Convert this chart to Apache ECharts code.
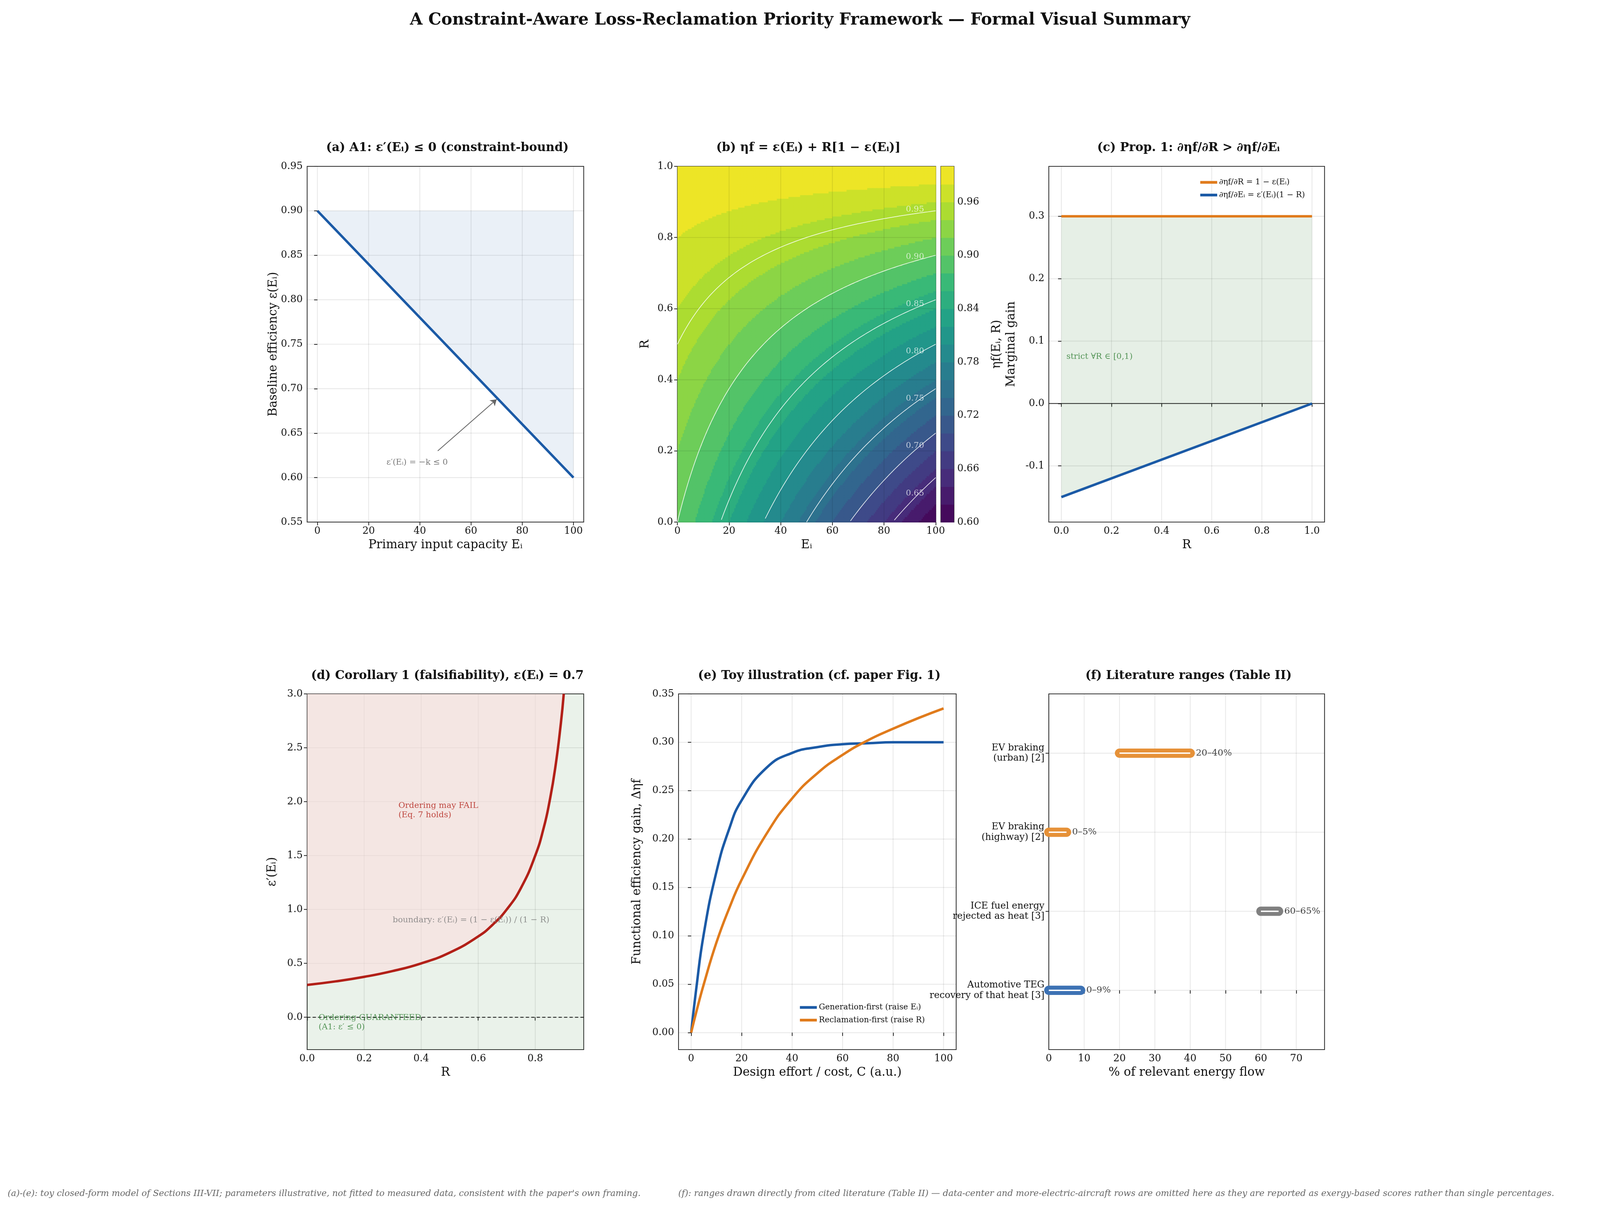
<!DOCTYPE html>
<html><head><meta charset="utf-8">
<script src="https://cdn.jsdelivr.net/npm/echarts@6/dist/echarts.min.js"></script>
<style>html,body{margin:0;background:#fff;overflow:hidden}#main{width:100vw;height:100vh}</style>
</head><body><div id="main"></div>
<script>
// (a) baseline efficiency, linear model
var aE = [0, 100];
var aEps = [0.9, 0.6];
var eps0 = 0.9, kSlope = 0.003;
// (b) contour levels
var bLevels = [0.65, 0.70, 0.75, 0.80, 0.85, 0.90, 0.95];
var bBandStep = 0.02;
// (c) marginal gains
var cR = [0, 1];
var cDR = [0.3, 0.3];
var cDE = [-0.15, 0];
// (d) boundary eps' = (1-eps)/(1-R), eps = 0.7
var dR = [0, 0.1, 0.2, 0.3, 0.4, 0.5, 0.6, 0.65, 0.7, 0.75, 0.8, 0.83, 0.85, 0.87, 0.89, 0.9];
var dB = [0.3, 0.333, 0.375, 0.429, 0.5, 0.6, 0.75, 0.857, 1.0, 1.2, 1.5, 1.76, 2.0, 2.31, 2.73, 3.0];
// (e) toy illustration
var eC = [0, 2, 5, 10, 15, 20, 30, 40, 50, 60, 70, 80, 90, 100];
var eGen = [0, 0.045, 0.102, 0.166, 0.21, 0.24, 0.274, 0.289, 0.295, 0.298, 0.299, 0.3, 0.3, 0.3];
var eRec = [0, 0.021, 0.05, 0.093, 0.128, 0.158, 0.206, 0.242, 0.268, 0.287, 0.302, 0.314, 0.325, 0.335];
// (f) literature ranges
var fRows = ['Automotive TEG\nrecovery of that heat [3]', 'ICE fuel energy\nrejected as heat [3]', 'EV braking\n(highway) [2]', 'EV braking\n(urban) [2]'];
var fLo = [0, 60, 0, 20];
var fHi = [9, 65, 5, 40];
var fLbl = ['0–9%', '60–65%', '0–5%', '20–40%'];
var fCol = ['#3d72b4', '#808080', '#e69138', '#e69138'];

var FONT = 'DejaVu Serif';
var BLUE = '#1b5aa6', ORANGE = '#e07b1c', RED = '#b22018', GREEN = '#2e7d32';
var viridis = ['#440154','#482878','#3e4989','#31688e','#26828e','#1f9e89','#35b779','#6ece58','#b5de2b','#fde725'];

// layout is written for 5855x3109 and scaled to whatever the window is
var el = document.getElementById('main');
var SX = el.clientWidth / 5855, SY = el.clientHeight / 3109, SF = Math.min(SX, SY);
function X(v){return v * SX;} function Y(v){return v * SY;} function F(v){return v * SF;}

function hex(c){return [parseInt(c.substr(1,2),16),parseInt(c.substr(3,2),16),parseInt(c.substr(5,2),16)];}
function vir(t){
  t = Math.max(0, Math.min(1, t)) * (viridis.length - 1);
  var i = Math.min(Math.floor(t), viridis.length - 2), f = t - i;
  var a = hex(viridis[i]), b = hex(viridis[i+1]);
  return 'rgb(' + a.map(function(v,j){return Math.round(v + (b[j]-v)*f);}).join(',') + ')';
}
function bandColor(v){
  var k = Math.floor((v - 0.6) / bBandStep + 1e-9);
  k = Math.max(0, Math.min(19, k));
  return vir((k + 0.5) / 20);
}

var chart = echarts.init(el);
var TOP1 = 426, TOP2 = 1777, H = 911;
var grids = [
  {left:1124, top:TOP1, width:1012, height:H},
  {left:2479, top:TOP1, width:945, height:H},
  {left:3443, top:TOP1, width:48, height:H},
  {left:3838, top:TOP1, width:1009, height:H},
  {left:1124, top:TOP2, width:1012, height:H},
  {left:2483, top:TOP2, width:1016, height:H},
  {left:3838, top:TOP2, width:1009, height:H}
].map(function(g){
  return {left:X(g.left), top:Y(g.top), width:X(g.width), height:Y(g.height),
    show:true, borderColor:'#333', borderWidth:F(3), backgroundColor:'transparent'};
});

function ax(gi, min, max, ticks, name, gap, fmt, extra){
  var o = {
    type:'value', gridIndex:gi, min:min, max:max,
    name:name, nameLocation:'middle', nameGap:F(gap),
    nameTextStyle:{fontFamily:FONT, fontSize:F(44), color:'#111'},
    axisLine:{show:false},
    axisTick:{show:true, length:F(12), lineStyle:{color:'#333', width:F(3)}, customValues:ticks},
    axisLabel:{fontFamily:FONT, fontSize:F(36), color:'#111', margin:F(16), customValues:ticks,
      formatter:fmt || function(v){return v;}},
    splitLine:{show:false}
  };
  if (extra) for (var k in extra) o[k] = extra[k];
  return o;
}
function f2(v){return (Math.round(v*100)/100).toFixed(2);}
function f1(v){return (Math.round(v*10)/10).toFixed(1);}
function range(a,b,s){var r=[];for(var v=a;v<=b+1e-9;v+=s)r.push(Math.round(v*1000)/1000);return r;}

var xAxes = [
  ax(0, -4, 104, range(0,100,20), 'Primary input capacity Eᵢ', 62),
  ax(1, 0, 100, range(0,100,20), 'Eᵢ', 62),
  {type:'value', gridIndex:2, min:0, max:1, show:false},
  ax(3, -0.05, 1.05, range(0,1,0.2), 'R', 62, f1),
  ax(4, 0, 0.97, range(0,0.8,0.2), 'R', 62, f1),
  ax(5, -5, 105, range(0,100,20), 'Design effort / cost, C (a.u.)', 62),
  ax(6, 0, 78, range(0,70,10), '% of relevant energy flow', 62)
];
var yAxes = [
  ax(0, 0.55, 0.95, range(0.55,0.95,0.05), 'Baseline efficiency ε(Eᵢ)', 100, f2),
  ax(1, 0, 1, range(0,1,0.2), 'R', 95, f1),
  ax(2, 0.6, 1.0, range(0.6,0.96,0.06), 'ηf(Eᵢ, R)', 135, f2, {position:'right', nameRotate:90}),
  ax(3, -0.19, 0.38, range(-0.1,0.3,0.1), 'Marginal gain', 115, f1),
  ax(4, -0.3, 3.0, range(0,3,0.5), 'ε′(Eᵢ)', 105, f1),
  ax(5, -0.0175, 0.35, range(0,0.35,0.05), 'Functional efficiency gain, Δηf', 130, f2),
  ax(6, -0.75, 3.75, [0,1,2,3], '', 0, function(v){return fRows[Math.round(v)] || '';})
];
yAxes[6].axisLabel.fontSize = F(34); yAxes[6].axisLabel.lineHeight = F(38);
yAxes[2].axisLabel.margin = F(12);

// grid lines drawn as faint custom lines at the tick positions
function gridLines(gi, xt, yt, xr, yr){
  var d = [];
  xt.forEach(function(v){ d.push([v, yr[0], v, yr[1]]); });
  yt.forEach(function(v){ d.push([xr[0], v, xr[1], v]); });
  return {type:'custom', xAxisIndex:gi, yAxisIndex:gi, data:d, silent:true, z:1, progressive:0,
    renderItem:function(p, api){
      var a = api.coord([api.value(0), api.value(1)]), b = api.coord([api.value(2), api.value(3)]);
      return {type:'line', shape:{x1:a[0], y1:a[1], x2:b[0], y2:b[1]}, style:{stroke:'rgba(0,0,0,0.09)', lineWidth:F(3)}};
    }};
}
function poly(gi, pts, fill, z){
  return {type:'custom', xAxisIndex:gi, yAxisIndex:gi, data:[0], silent:true, z:z||2,
    renderItem:function(p, api){
      return {type:'polygon', shape:{points:pts.map(function(q){return api.coord(q);})}, style:{fill:fill}};
    }};
}
function txt(gi, x, y, s, color, size, align){
  return {type:'scatter', xAxisIndex:gi, yAxisIndex:gi, symbolSize:0, silent:true, z:10,
    data:[[x,y]], label:{show:true, position:'inside', formatter:s, color:color, fontFamily:FONT,
      fontSize:F(size||32), align:align||'left', lineHeight:F((size||32)*1.15)}};
}

var series = [];
// ---- (a)
series.push(gridLines(0, range(0,100,20), range(0.55,0.95,0.05), [-4,104], [0.55,0.95]));
series.push(poly(0, [[aE[0],aEps[0]],[aE[1],aEps[0]],[aE[1],aEps[1]]], 'rgba(27,90,166,0.09)'));
series.push({type:'line', xAxisIndex:0, yAxisIndex:0, data:[[aE[0],aEps[0]],[aE[1],aEps[1]]], symbol:'none',
  lineStyle:{color:BLUE, width:F(9)}, z:5,
  markLine:{silent:true, symbol:['none','arrow'], symbolSize:F(22), label:{show:false},
    lineStyle:{color:'#666', width:F(3), type:'solid'}, data:[[{coord:[47,0.63]},{coord:[70,0.688]}]]}});
series.push(txt(0, 27, 0.617, 'ε′(Eᵢ) = −k ≤ 0', '#555', 30));

// ---- (b) contour fill
var cells = [];
for (var E = 0; E < 100; E += 0.5) for (var R = 0; R < 1; R += 0.005) {
  var em = E + 0.25, rm = R + 0.0025, ep = eps0 - kSlope * em;
  cells.push([E, R, ep + rm * (1 - ep)]);
}
series.push({type:'custom', xAxisIndex:1, yAxisIndex:1, data:cells, silent:true, z:1,
  progressive:0, large:false,
  renderItem:function(p, api){
    var a = api.coord([api.value(0), api.value(1) + 0.005]), b = api.coord([api.value(0) + 0.5, api.value(1)]);
    return {type:'rect', shape:{x:a[0], y:a[1], width:b[0]-a[0]+1, height:b[1]-a[1]+1}, style:{fill:bandColor(api.value(2))}};
  }});
series.push(gridLines(1, range(0,100,20), range(0,1,0.2), [0,100], [0,1]));
bLevels.forEach(function(L){
  var pts = [];
  for (var E = 0; E <= 100; E += 1) {
    var ep = eps0 - kSlope * E, r = (L - ep) / (1 - ep);
    if (r >= 0 && r <= 1) pts.push([E, r]);
  }
  series.push({type:'line', xAxisIndex:1, yAxisIndex:1, data:pts, symbol:'none', silent:true, z:4,
    lineStyle:{color:'rgba(255,255,255,0.85)', width:F(2.5)}});
  var ep90 = eps0 - kSlope * 92;
  series.push(txt(1, 92, (L - ep90) / (1 - ep90) + 0.012, L.toFixed(2), 'rgba(255,255,255,0.85)', 30, 'center'));
});
// colorbar
var bands = range(0.6, 0.98, bBandStep);
series.push({type:'custom', xAxisIndex:2, yAxisIndex:2, data:bands, silent:true, progressive:0,
  renderItem:function(p, api){
    var v = api.value(0), a = api.coord([0, v + bBandStep]), b = api.coord([1, v]);
    return {type:'rect', shape:{x:a[0], y:a[1], width:b[0]-a[0], height:b[1]-a[1]+1}, style:{fill:bandColor(v + 0.001)}};
  }});

// ---- (c)
series.push(gridLines(3, range(0,1,0.2), range(-0.1,0.3,0.1), [-0.05,1.05], [-0.19,0.38]));
series.push(poly(3, [[cR[0],cDR[0]],[cR[1],cDR[1]],[cR[1],cDE[1]],[cR[0],cDE[0]]], 'rgba(46,125,50,0.12)'));
series.push({type:'line', xAxisIndex:3, yAxisIndex:3, data:[[-0.05,0],[1.05,0]], symbol:'none', silent:true,
  lineStyle:{color:'#111', width:F(2.5)}, z:3});
series.push({name:'∂ηf/∂R = 1 − ε(Eᵢ)', type:'line', xAxisIndex:3, yAxisIndex:3, symbol:'none', z:5,
  data:cR.map(function(r,i){return [r, cDR[i]];}), lineStyle:{color:ORANGE, width:F(9)}, itemStyle:{color:ORANGE}});
series.push({name:'∂ηf/∂Eᵢ = ε′(Eᵢ)(1 − R)', type:'line', xAxisIndex:3, yAxisIndex:3, symbol:'none', z:5,
  data:cR.map(function(r,i){return [r, cDE[i]];}), lineStyle:{color:BLUE, width:F(9)}, itemStyle:{color:BLUE}});
series.push(txt(3, 0.02, 0.075, 'strict ∀R ∈ [0,1)', GREEN, 30));

// ---- (d)
series.push(poly(4, [[0,-0.3],[0.97,-0.3],[0.97,3],[0,3]], 'rgba(46,125,50,0.10)', 0));
series.push(gridLines(4, range(0,0.8,0.2), range(0,3,0.5), [0,0.97], [-0.3,3]));
series.push({type:'line', xAxisIndex:4, yAxisIndex:4, data:dR.map(function(r,i){return [r, dB[i]];}), smooth:true,
  symbol:'none', z:5, lineStyle:{color:RED, width:F(9)}, areaStyle:{origin:'end', color:'rgba(250,222,222,0.85)'}});
series.push({type:'line', xAxisIndex:4, yAxisIndex:4, data:[[0,0],[0.97,0]], symbol:'none', silent:true, z:4,
  lineStyle:{color:'#111', width:F(3), type:[F(12),F(8)]}});
series.push(txt(4, 0.32, 1.92, 'Ordering may FAIL\n(Eq. 7 holds)', RED, 30));
series.push(txt(4, 0.30, 0.9, 'boundary: ε′(Eᵢ) = (1 − ε(Eᵢ)) / (1 − R)', '#777', 30));
series.push(txt(4, 0.04, -0.05, 'Ordering GUARANTEED\n(A1: ε′ ≤ 0)', GREEN, 30));

// ---- (e)
series.push(gridLines(5, range(0,100,20), range(0,0.35,0.05), [-5,105], [-0.0175,0.35]));
series.push({name:'Generation-first (raise Eᵢ)', type:'line', xAxisIndex:5, yAxisIndex:5, smooth:true, symbol:'none', z:5,
  data:eC.map(function(c,i){return [c, eGen[i]];}), lineStyle:{color:BLUE, width:F(9)}, itemStyle:{color:BLUE}});
series.push({name:'Reclamation-first (raise R)', type:'line', xAxisIndex:5, yAxisIndex:5, smooth:true, symbol:'none', z:5,
  data:eC.map(function(c,i){return [c, eRec[i]];}), lineStyle:{color:ORANGE, width:F(9)}, itemStyle:{color:ORANGE}});

// ---- (f)
series.push(gridLines(6, range(0,70,10), [0,1,2,3], [0,78], [-0.75,3.75]));
fRows.forEach(function(r, i){
  series.push({type:'line', xAxisIndex:6, yAxisIndex:6, data:[[fLo[i], i],[fHi[i], i]], symbol:'none', silent:true, z:5,
    lineStyle:{color:fCol[i], width:F(34), cap:'round'}});
  series.push({type:'line', xAxisIndex:6, yAxisIndex:6, data:[[fLo[i], i],[fHi[i], i]], symbol:'none', silent:true, z:6,
    lineStyle:{color:'#fff', width:F(5)}});
  series.push(txt(6, fHi[i] + 1.6, i, fLbl[i], '#111', 33));
});

var titleStyle = {fontFamily:FONT, fontSize:F(44), fontWeight:'bold', color:'#111'};
function ptitle(x, y, s){ return {text:s, left:X(x), top:Y(y), textAlign:'center', textStyle:titleStyle}; }
var legendText = {fontFamily:FONT, fontSize:F(29), color:'#111'};

chart.setOption({
  backgroundColor:'#fff',
  animation:false,
  title:[
    {text:'A Constraint-Aware Loss-Reclamation Priority Framework — Formal Visual Summary', left:'center', top:Y(26),
      textStyle:{fontFamily:FONT, fontSize:F(60), fontWeight:'bold', color:'#111'}},
    ptitle(1630, 358, '(a) A1: ε′(Eᵢ) ≤ 0 (constraint-bound)'),
    ptitle(2951, 358, '(b) ηf = ε(Eᵢ) + R[1 − ε(Eᵢ)]'),
    ptitle(4342, 358, '(c) Prop. 1: ∂ηf/∂R > ∂ηf/∂Eᵢ'),
    ptitle(1630, 1710, '(d) Corollary 1 (falsifiability), ε(Eᵢ) = 0.7'),
    ptitle(2991, 1710, '(e) Toy illustration (cf. paper Fig. 1)'),
    ptitle(4342, 1710, '(f) Literature ranges (Table II)')
  ],
  legend:[
    {data:['∂ηf/∂R = 1 − ε(Eᵢ)', '∂ηf/∂Eᵢ = ε′(Eᵢ)(1 − R)'], orient:'vertical', left:X(4385), top:Y(452),
      icon:'rect', itemWidth:F(62), itemHeight:F(10), itemGap:F(18), textStyle:legendText},
    {data:['Generation-first (raise Eᵢ)', 'Reclamation-first (raise R)'], orient:'vertical', left:X(2920), top:Y(2565),
      icon:'rect', itemWidth:F(62), itemHeight:F(10), itemGap:F(18), textStyle:legendText}
  ],
  graphic:[
    {type:'text', left:X(28), top:Y(3046), style:{text:"(a)-(e): toy closed-form model of Sections III-VII; parameters illustrative, not fitted to measured data, consistent with the paper's own framing.",
      font:'italic ' + F(32) + 'px "DejaVu Serif"', fill:'#666'}},
    {type:'text', left:X(2482), top:Y(3046), style:{text:'(f): ranges drawn directly from cited literature (Table II) — data-center and more-electric-aircraft rows are omitted here as they are reported as exergy-based scores rather than single percentages.',
      font:'italic ' + F(32) + 'px "DejaVu Serif"', fill:'#666'}}
  ],
  grid:grids, xAxis:xAxes, yAxis:yAxes, series:series
});
</script></body></html>
